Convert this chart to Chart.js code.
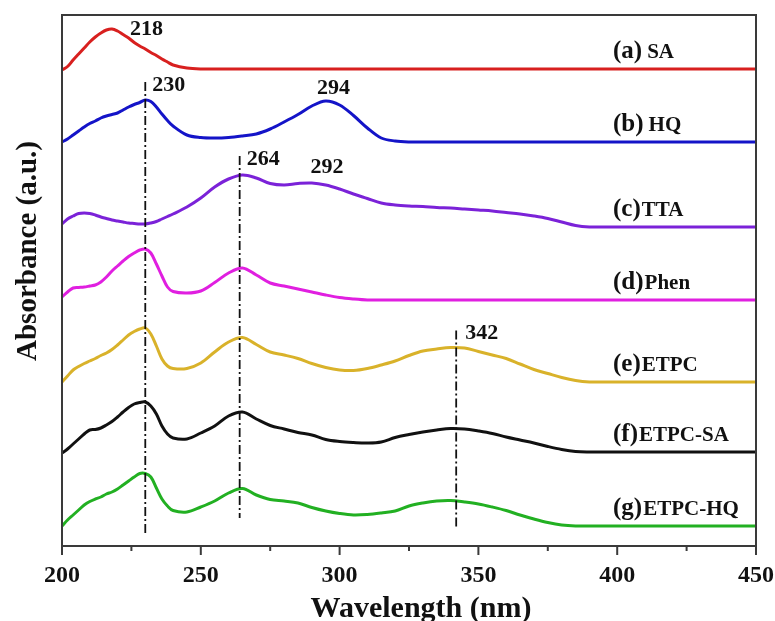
<!DOCTYPE html>
<html>
<head>
<meta charset="utf-8">
<title>UV-Vis absorbance spectra</title>
<script src="https://cdn.jsdelivr.net/npm/chart.js@4.4.1/dist/chart.umd.min.js"></script>
<style>
  html, body { margin: 0; padding: 0; background: #fff; }
  #wrap { width: 775px; height: 621px; }
</style>
</head>
<body>
<div id="wrap"><canvas id="spectra"></canvas></div>
<script>
// wavelength grid (nm), shared by every spectrum
const wavelengths = [
  200, 202, 204, 206, 208, 210, 212, 214, 216, 218, 220, 222, 224, 226, 228, 230, 232, 234, 236, 238, 240,
  245, 250, 255, 260, 265, 270, 275, 280, 285, 290, 295, 300, 305, 310, 315, 320, 325, 330, 335, 340,
  345, 350, 355, 360, 365, 370, 375, 380, 385, 390, 395, 400, 425, 450
];

// absorbance above each curve's own baseline (a.u.)
const sa = [
  -0.01, 0.025, 0.09, 0.15, 0.21, 0.27, 0.32, 0.36, 0.39, 0.40, 0.38, 0.345, 0.31, 0.265, 0.23, 0.20, 0.165, 0.135, 0.10, 0.07, 0.04,
  0.01, 0, 0, 0, 0, 0, 0, 0, 0, 0, 0, 0, 0, 0, 0, 0, 0, 0, 0, 0,
  0, 0, 0, 0, 0, 0, 0, 0, 0, 0, 0, 0, 0, 0
];
const hq = [
  0, 0.03, 0.07, 0.11, 0.15, 0.185, 0.21, 0.24, 0.26, 0.275, 0.29, 0.32, 0.35, 0.375, 0.395, 0.42, 0.405, 0.35, 0.28, 0.215, 0.16,
  0.07, 0.045, 0.04, 0.045, 0.06, 0.08, 0.13, 0.20, 0.275, 0.36, 0.41, 0.37, 0.265, 0.14, 0.04, 0.01, 0, 0, 0, 0,
  0, 0, 0, 0, 0, 0, 0, 0, 0, 0, 0, 0, 0, 0
];
const tta = [
  0.03, 0.08, 0.11, 0.135, 0.14, 0.135, 0.12, 0.10, 0.085, 0.07, 0.06, 0.05, 0.04, 0.035, 0.03, 0.03, 0.04, 0.055, 0.08, 0.105, 0.13,
  0.20, 0.29, 0.40, 0.48, 0.52, 0.49, 0.435, 0.42, 0.435, 0.44, 0.42, 0.38, 0.33, 0.285, 0.24, 0.22, 0.21, 0.205, 0.195, 0.19,
  0.18, 0.17, 0.16, 0.145, 0.13, 0.11, 0.085, 0.05, 0.015, 0, 0, 0, 0, 0
];
const phen = [
  0.03, 0.08, 0.12, 0.125, 0.13, 0.14, 0.15, 0.18, 0.23, 0.29, 0.34, 0.39, 0.435, 0.47, 0.50, 0.51, 0.47, 0.36, 0.24, 0.13, 0.085,
  0.07, 0.09, 0.175, 0.27, 0.32, 0.25, 0.17, 0.14, 0.11, 0.08, 0.05, 0.025, 0.01, 0, 0, 0, 0, 0, 0, 0,
  0, 0, 0, 0, 0, 0, 0, 0, 0, 0, 0, 0, 0, 0
];
const etpc = [
  0, 0.06, 0.12, 0.155, 0.185, 0.21, 0.235, 0.265, 0.29, 0.325, 0.37, 0.42, 0.47, 0.505, 0.53, 0.54, 0.48, 0.36, 0.23, 0.16, 0.135,
  0.135, 0.19, 0.30, 0.40, 0.445, 0.375, 0.30, 0.27, 0.235, 0.185, 0.145, 0.12, 0.115, 0.135, 0.17, 0.21, 0.265, 0.31, 0.33, 0.345,
  0.34, 0.305, 0.27, 0.235, 0.18, 0.125, 0.085, 0.045, 0.015, 0, 0, 0, 0, 0
];
const etpcSa = [
  -0.01, 0.03, 0.08, 0.13, 0.18, 0.22, 0.225, 0.24, 0.27, 0.305, 0.35, 0.40, 0.445, 0.48, 0.495, 0.50, 0.46, 0.38, 0.26, 0.18, 0.14,
  0.13, 0.19, 0.26, 0.36, 0.40, 0.33, 0.265, 0.23, 0.195, 0.17, 0.125, 0.105, 0.095, 0.09, 0.10, 0.145, 0.175, 0.20, 0.22, 0.235,
  0.23, 0.21, 0.185, 0.15, 0.12, 0.09, 0.055, 0.025, 0.005, 0, 0, 0, 0, 0
];
const etpcHq = [
  0, 0.06, 0.11, 0.16, 0.21, 0.245, 0.27, 0.29, 0.32, 0.34, 0.37, 0.41, 0.45, 0.49, 0.525, 0.525, 0.49, 0.38, 0.27, 0.20, 0.155,
  0.14, 0.19, 0.25, 0.33, 0.375, 0.31, 0.265, 0.25, 0.23, 0.185, 0.15, 0.125, 0.11, 0.115, 0.13, 0.15, 0.20, 0.23, 0.25, 0.255,
  0.24, 0.22, 0.19, 0.155, 0.11, 0.07, 0.035, 0.01, 0, 0, 0, 0, 0, 0
];

// vertical stacking of the spectra
const offsets = [4.77, 4.04, 3.19, 2.46, 1.64, 0.94, 0.20];
const letters = ['(a)', '(b)', '(c)', '(d)', '(e)', '(f)', '(g)'];
const names = ['SA', 'HQ', 'TTA', 'Phen', 'ETPC', 'ETPC-SA', 'ETPC-HQ'];
const colors = ['#d8201f', '#1414c8', '#7b22d8', '#e01fe0', '#d9b22a', '#111111', '#22b022'];
const spectra = [sa, hq, tta, phen, etpc, etpcSa, etpcHq];

// peak positions (nm) and the spectrum each one belongs to
const peaks = [218, 230, 294, 264, 292, 342];
const peakSeries = [0, 1, 1, 2, 2, 4];
const guides = [230, 264, 342];

const xTicks = [200, 250, 300, 350, 400, 450];

const serif = '"Liberation Serif", "Times New Roman", serif';

const datasets = spectra.map((vals, i) => ({
  label: names[i],
  data: wavelengths.map((w, j) => ({ x: w, y: vals[j] + offsets[i] })),
  borderColor: colors[i],
  borderWidth: 3,
  pointRadius: 0,
  tension: 0.35,
  fill: false
}));

function valueAt(series, nm) {
  let best = 0;
  for (let j = 1; j < wavelengths.length; j++) {
    if (Math.abs(wavelengths[j] - nm) < Math.abs(wavelengths[best] - nm)) best = j;
  }
  return spectra[series][best] + offsets[series];
}

// text offsets for peak labels (dx to text start, dy to text middle)
const peakText = {
  218: [18, 0], 230: [7, -15], 294: [-6, -13], 264: [7, -16], 292: [-7, -16], 342: [9, -14]
};
// where each dash-dot guide stops at the bottom (a.u.)
const guideEnd = { 230: 0.13, 264: 0.28, 342: 0.18 };

const decorations = {
  id: 'decorations',
  afterDatasetsDraw(chart) {
    const { ctx, chartArea: area, scales: { x, y } } = chart;
    ctx.save();

    // frame
    ctx.strokeStyle = '#3a3a3a';
    ctx.lineWidth = 2;
    ctx.strokeRect(area.left, area.top, area.right - area.left, area.bottom - area.top);

    // outward ticks, major every 50 nm, minor in between
    ctx.lineWidth = 2;
    for (let v = 200; v <= 450; v += 25) {
      const px = x.getPixelForValue(v);
      const len = v % 50 === 0 ? 9 : 5;
      ctx.beginPath();
      ctx.moveTo(px, area.bottom);
      ctx.lineTo(px, area.bottom + len);
      ctx.stroke();
    }

    // peak labels and guides
    ctx.fillStyle = '#111';
    ctx.font = 'bold 22px ' + serif;
    ctx.textBaseline = 'middle';
    ctx.textAlign = 'left';
    const labelY = {};
    peaks.forEach((p, i) => {
      const px = x.getPixelForValue(p);
      const py = y.getPixelForValue(valueAt(peakSeries[i], p));
      const [dx, dy] = peakText[p];
      labelY[p] = py + dy;
      ctx.fillText(String(p), px + dx, py + dy);
    });

    ctx.strokeStyle = '#111';
    ctx.lineWidth = 1.8;
    ctx.setLineDash([9, 3, 2, 3]);
    guides.forEach(g => {
      const px = x.getPixelForValue(g);
      ctx.beginPath();
      ctx.moveTo(px, labelY[g] - 3);
      ctx.lineTo(px, y.getPixelForValue(guideEnd[g]));
      ctx.stroke();
    });
    ctx.setLineDash([]);

    // curve names on the right
    names.forEach((n, i) => {
      const base = y.getPixelForValue(offsets[i]);
      const tx = 613;
      const ty = base - 11;
      ctx.textBaseline = 'alphabetic';
      ctx.font = 'bold 25px ' + serif;
      ctx.fillText(letters[i], tx, ty);
      const w = ctx.measureText(letters[i]).width;
      ctx.font = 'bold 21px ' + serif;
      ctx.fillText(n, tx + w + (i < 2 ? 5 : 1), ty);
    });

    // axis titles
    ctx.font = 'bold 30px ' + serif;
    ctx.textAlign = 'center';
    ctx.fillText('Wavelength (nm)', (area.left + area.right) / 2 + 12, 617);
    ctx.translate(36, 251);
    ctx.rotate(-Math.PI / 2);
    ctx.font = 'bold 29px ' + serif;
    ctx.fillText('Absorbance (a.u.)', 0, 0);

    ctx.restore();
  }
};

const chart = new Chart(document.getElementById('spectra'), {
  type: 'line',
  data: { datasets: datasets },
  options: {
    responsive: true,
    maintainAspectRatio: false,
    animation: false,
    layout: { padding: { left: 62, right: 19, top: 15, bottom: 0 } },
    plugins: {
      legend: { display: false },
      tooltip: { enabled: false }
    },
    scales: {
      x: {
        type: 'linear',
        min: 200,
        max: 450,
        afterBuildTicks: (scale) => { scale.ticks = xTicks.map(v => ({ value: v })); },
        afterFit: (scale) => {
          scale.height = 75;
          // let the end labels overhang instead of shrinking the plot
          scale.paddingLeft = 0;
          scale.paddingRight = 0;
        },
        grid: { display: false, drawTicks: false },
        border: { display: false },
        ticks: {
          padding: 15,
          maxRotation: 0,
          autoSkip: false,
          color: '#111',
          font: { family: serif, size: 24, weight: 'bold' }
        }
      },
      y: {
        display: false,
        min: 0,
        max: 5.31
      }
    }
  },
  plugins: [decorations]
});
</script>
</body>
</html>
